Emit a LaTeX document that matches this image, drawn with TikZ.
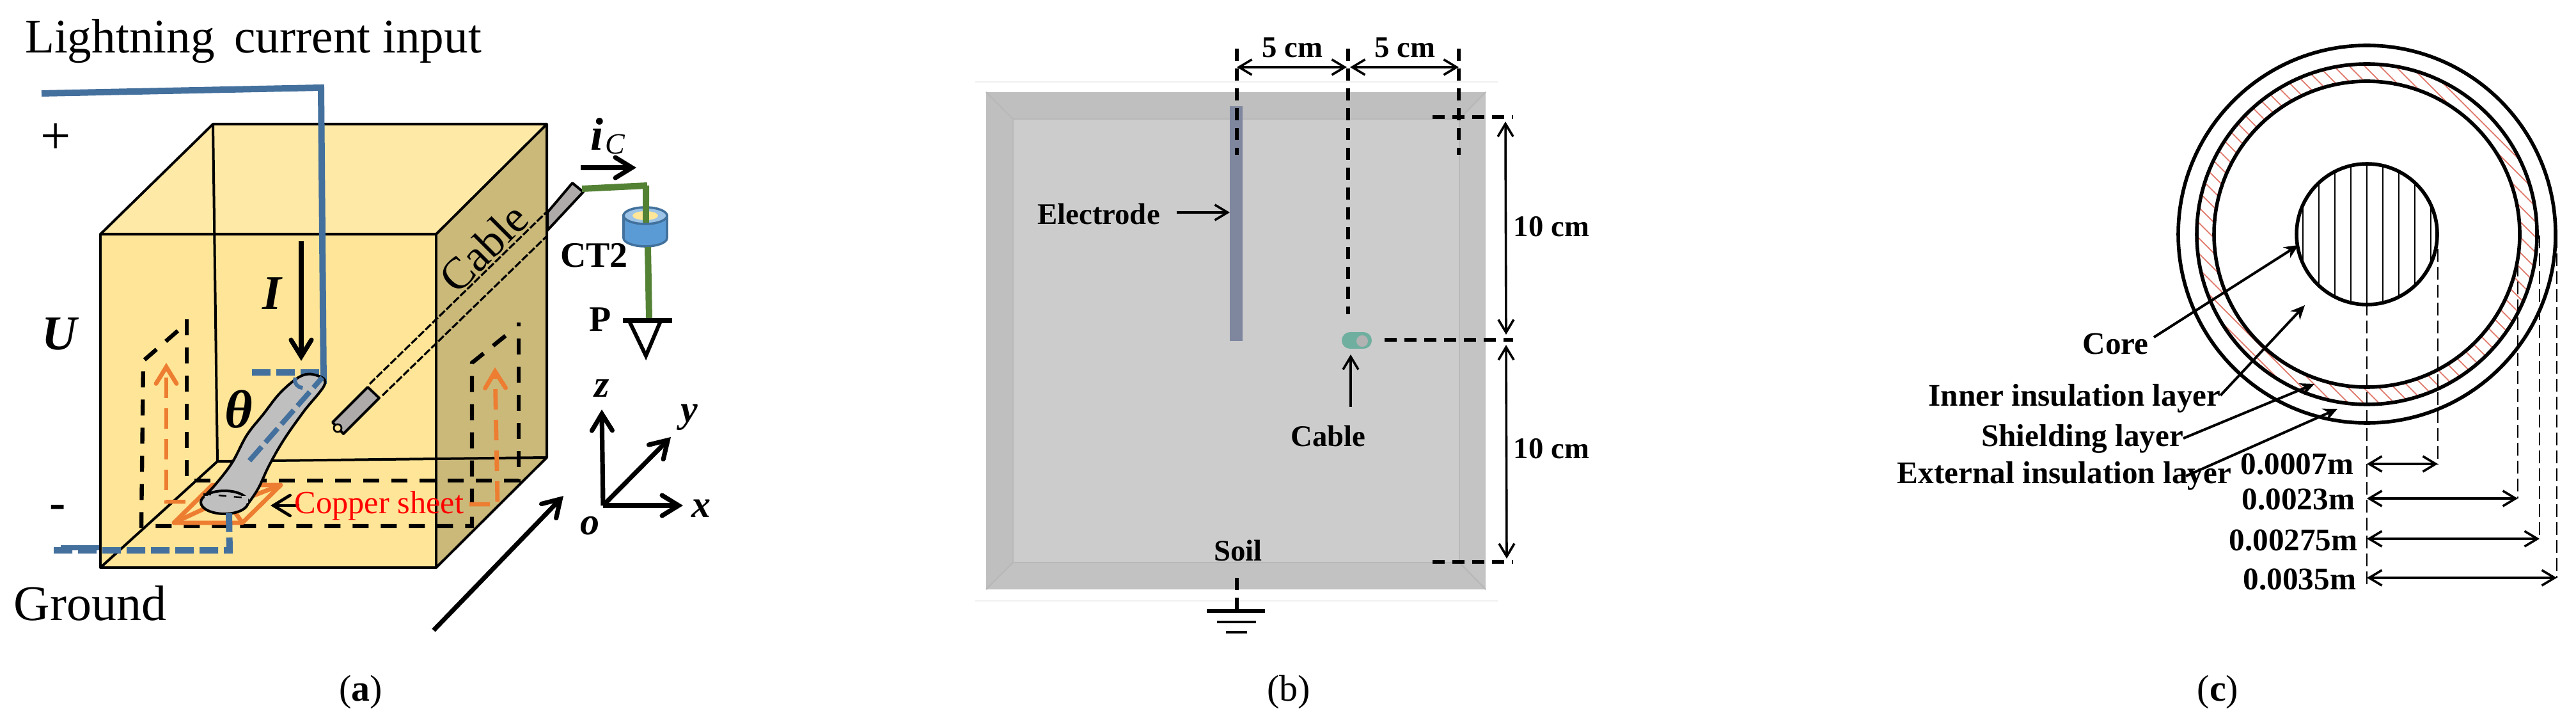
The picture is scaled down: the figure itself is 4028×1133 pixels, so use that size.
\documentclass[tikz,border=0pt]{standalone}
\usepackage{fontspec}
\setmainfont{Liberation Serif}
\usetikzlibrary{arrows.meta}
\definecolor{wireblue}{HTML}{44709D}
\definecolor{wiregreen}{HTML}{548235}
\definecolor{copper}{HTML}{ED7D31}
\definecolor{frontface}{HTML}{FFE597}
\definecolor{topface}{HTML}{FFE9A6}
\definecolor{sideface}{HTML}{CBB97A}
\definecolor{tubegray}{HTML}{BFBFBF}
\definecolor{cablegray}{HTML}{AEAAAA}
\definecolor{ctblue}{HTML}{5B9BD5}
\definecolor{ctedge}{HTML}{41719C}
\definecolor{ctring}{HTML}{9DC3E6}
\definecolor{ctinner}{HTML}{FFE699}
\definecolor{shieldred}{HTML}{E0786A}
\definecolor{tealpill}{HTML}{6FAF9F}
\definecolor{electrodeblue}{HTML}{7F879F}
\tikzset{every picture/.style={x=0.25pt,y=-0.25pt},>={Straight Barb[length=6.5pt,width=8pt,line cap=round]}}
\tikzstyle{boxline}=[draw=black,line width=1pt,line join=round]
\tikzstyle{wire}=[draw=wireblue,line width=2.5pt]
\tikzstyle{wiredash}=[wire,dash pattern=on 7.25pt off 2.25pt]
\tikzstyle{loopdash}=[draw=black,line width=1.6pt,dash pattern=on 6.25pt off 4.75pt]
\tikzstyle{copperdash}=[draw=copper,line width=1.7pt,dash pattern=on 8pt off 4pt]
\tikzstyle{dimdash}=[draw=black,line width=1.5pt,dash pattern=on 4.75pt off 3pt]
\tikzstyle{thindash}=[draw=black,line width=0.7pt,dash pattern=on 5pt off 2pt]
\tikzstyle{dimarrow}=[draw=black,line width=0.9pt,<->,>={Straight Barb[length=5pt,width=6pt]}]
\tikzstyle{thinarrow}=[draw=black,line width=0.9pt,->,>={Straight Barb[length=5pt,width=6pt]}]
\tikzstyle{leadarrow}=[draw=black,line width=1pt,-{Stealth[length=5.5pt,width=5pt]}]
\tikzstyle{blackarrow}=[draw=black,line width=1.8pt,->]
\tikzstyle{bigtext}=[font=\fontsize{18.8}{20}\selectfont,inner sep=0pt]
\tikzstyle{mathtext}=[font=\fontsize{19}{20}\selectfont\bfseries\itshape,inner sep=0pt]
\tikzstyle{axistext}=[font=\fontsize{15}{16}\selectfont\bfseries\itshape,inner sep=0pt]
\tikzstyle{labeltext}=[font=\fontsize{11.7}{14}\selectfont\bfseries,inner sep=0pt]
\tikzstyle{layertext}=[font=\fontsize{12.3}{14}\selectfont\bfseries,inner sep=0pt]
\tikzstyle{caption}=[font=\fontsize{14.5}{16}\selectfont,inner sep=0pt]
\begin{document}
\begin{tikzpicture}
	\useasboundingbox (0,0) rectangle (4028,1133);
	% panel a
	\coordinate (frontTL) at (157,366);
	\coordinate (frontTR) at (682,366);
	\coordinate (frontBL) at (157,887);
	\coordinate (frontBR) at (682,887);
	\coordinate (backTL) at (333,194);
	\coordinate (backTR) at (855,194);
	\coordinate (backBL) at (340,721);
	\coordinate (backBR) at (855,715);
	\fill[topface] (frontTL) -- (backTL) -- (backTR) -- (frontTR) -- cycle;
	\fill[frontface] (frontTL) -- (frontTR) -- (frontBR) -- (frontBL) -- cycle;
	\fill[sideface] (frontTR) -- (backTR) -- (backBR) -- (frontBR) -- cycle;
	\draw[boxline] (backTL) -- (backBL) -- (backBR);
	\draw[boxline] (backBL) -- (frontBL);
	\draw[boxline] (frontTL) -- (backTL) -- (backTR) -- (frontTR) -- cycle;
	\draw[boxline] (frontTL) -- (frontTR) -- (frontBR) -- (frontBL) -- cycle;
	\draw[boxline] (backTR) -- (backBR) -- (frontBR);
	\draw[loopdash] (292,499) -- (292,751) -- (811,751) -- (811,504);
	\draw[loopdash] (278,517) -- (224,564) -- (221,822) -- (738,822) -- (738,567) -- (800,517);
	\draw[copper,line width=1.7pt,line join=round] (272,817) -- (379,817) -- (439,758) -- (332,758) -- cycle;
	\draw[copper,line width=1.7pt] (272,817) -- (330,790) (379,817) -- (360,790) (439,758) -- (395,775);
	\draw[copperdash,->] (290,784) -- (260,784) -- (260,567);
	\draw[copperdash,->] (734,788) -- (778,788) -- (774,574);
	\draw[wire] (65,146) -- (502,137) -- (506,600);
	\draw[wiredash] (394,582) -- (506,582);
	\fill[tubegray] plot[smooth cycle,tension=0.6] coordinates {(470,588) (493,586) (508,600) (475,643) (444,687) (421,727) (404,763) (388,787) (352,802) (314,783) (337,757) (363,723) (386,680) (412,647) (439,613)};
	\draw[black,line width=1pt] plot[smooth,tension=0.6] coordinates {(320,775) (337,757) (363,723) (386,680) (412,647) (439,613) (470,588) (493,586) (508,600) (475,643) (444,687) (421,727) (404,763) (388,787)};
	\draw[black,line width=1pt,fill=tubegray] (351,785) ellipse [x radius=37,y radius=18];
	\fill[tubegray] (320,775) -- (388,775) -- (388,786) -- (320,782) -- cycle;
	\draw[black,line width=0.6pt,dashed] (318,772) -- (385,778);
	\draw[wiredash,line width=2pt] (390,720) -- (504,590);
	\draw[wire,line width=1.5pt] (462,590) arc [start angle=200,end angle=90,radius=12];
	\draw[wiredash] (358,802) -- (359,860) -- (80,860);
	\draw[wire,line width=2pt] (95,856) -- (155,856);
	\node at (756,387) [bigtext,rotate=45,font=\fontsize{17.5}{20}\selectfont] (cableLabelA) {Cable};
	\coordinate (cableInA) at (578,600);
	\coordinate (cableOutA) at (854,332);
	\coordinate (cableInB) at (598,618);
	\coordinate (cableOutB) at (854,370);
	\draw[black,line width=0.8pt,dash pattern=on 3pt off 0.8pt] (cableInA) -- (cableOutA);
	\draw[black,line width=0.8pt,dash pattern=on 3pt off 0.8pt] (cableInB) -- (cableOutB);
	\draw[boxline,fill=cablegray] (575,605) -- (593,622) -- (537,678) -- (520,660) -- cycle;
	\draw[black,line width=0.7pt,fill=frontface] (528,669) ellipse [x radius=6,y radius=6];
	\draw[boxline,fill=cablegray] (856,332) -- (895,286) -- (912,300) -- (856,360) -- cycle;
	\draw[wiregreen,line width=2.5pt] (910,295) -- (1012,290) (1010,290) -- (1010,315);
	\draw[ctedge,line width=0.9pt,fill=ctblue] (975,337) -- (975,372) arc [start angle=180,end angle=0,x radius=34,y radius=13] -- (1043,337) -- cycle;
	\draw[ctedge,line width=0.9pt,fill=ctring] (1009,337) ellipse [x radius=34,y radius=13];
	\fill[ctinner] (1009,337) ellipse [x radius=20,y radius=7];
	\draw[wiregreen,line width=2.5pt] (1010,310) -- (1010,348);
	\draw[wiregreen,line width=2.5pt] (1013,386) -- (1015,498);
	\draw[black,line width=2pt] (974,501) -- (1051,501);
	\draw[black,line width=1.5pt] (985,504) -- (1010,556) -- (1032,504);
	\coordinate (axisO) at (943,790);
	\coordinate (axisZ) at (941,640);
	\coordinate (axisX) at (1068,790);
	\coordinate (axisY) at (1049,683);
	\draw[blackarrow] (axisO) -- (axisZ);
	\draw[blackarrow] (axisO) -- (axisX);
	\draw[blackarrow] (axisO) -- (axisY);
	\draw[blackarrow] (471,377) -- (471,564);
	\draw[blackarrow] (908,262) -- (995,262);
	\draw[blackarrow] (678,985) -- (881,775);
	\draw[blackarrow,line width=1.2pt] (468,790) -- (423,790);
	\node at (396,65) [bigtext] (inputLabel) {Lightning\hspace{3pt} current input};
	\node at (87,217) [bigtext,font=\fontsize{21}{22}\selectfont] (plusLabel) {+};
	\node at (90,800) [mathtext,font=\fontsize{19}{20}\selectfont\bfseries] (minusLabel) {-};
	\node at (93,522) [mathtext] (uLabel) {U};
	\node at (425,459) [mathtext] (iLabel) {I};
	\node at (373,640) [mathtext,font=\fontsize{21}{22}\selectfont\bfseries\itshape] (thetaLabel) {θ};
	\node at (141,943) [bigtext,font=\fontsize{19.5}{20}\selectfont] (groundLabel) {Ground};
	\node at (593,790) [inner sep=0pt,text=red,font=\fontsize{12.6}{14}\selectfont] (copperLabel) {Copper sheet};
	\node at (933,210) [mathtext,font=\fontsize{18}{20}\selectfont\bfseries\itshape] (currentLabel) {i};
	\node at (962,225) [mathtext,font=\fontsize{11.5}{14}\selectfont\itshape] (subscriptLabel) {C};
	\node at (929,399) [labeltext,font=\fontsize{14}{16}\selectfont\bfseries] (ctLabel) {CT2};
	\node at (939,499) [labeltext,font=\fontsize{14}{16}\selectfont\bfseries] (pLabel) {P};
	\node at (941,607) [axistext] (zLabel) {z};
	\node at (1078,652) [axistext] (yLabel) {y};
	\node at (1096,795) [axistext] (xLabel) {x};
	\node at (922,822) [axistext] (oLabel) {o};
	\node at (564,1082) [caption] (captionA) {(\textbf{a})};
	% panel b
	\draw[black!6,line width=0.5pt] (1525,128) -- (2342,128) (1525,939) -- (2342,939);
	\fill[black!20] (1584,186) rectangle (2282,879);
	\fill[black!25] (1542,144) -- (2323,144) -- (2282,186) -- (1584,186) -- cycle;
	\fill[black!25] (1542,144) -- (1584,186) -- (1584,879) -- (1542,921) -- cycle;
	\fill[black!23] (2323,144) -- (2282,186) -- (2282,879) -- (2323,921) -- cycle;
	\fill[black!24] (1542,921) -- (1584,879) -- (2282,879) -- (2323,921) -- cycle;
	\draw[black!28,line width=0.6pt] (1584,186) rectangle (2282,879);
	\draw[black!28,line width=0.6pt] (1542,144) -- (1584,186) (2323,144) -- (2282,186) (1542,921) -- (1584,879) (2323,921) -- (2282,879);
	\fill[electrodeblue] (1923,166) rectangle (1943,533);
	\fill[tealpill] (2111,519) rectangle (2132,545);
	\fill[tealpill] (2111,532) circle (13) (2132,532) circle (13);
	\fill[gray!60] (2130,533) circle (9);
	\coordinate (dimA) at (1934,105);
	\coordinate (dimB) at (2108,105);
	\coordinate (dimC) at (2281,105);
	\draw[dimdash] (1934,76) -- (1934,242);
	\draw[dimdash] (2108,76) -- (2108,491);
	\draw[dimdash] (2281,76) -- (2281,242);
	\draw[dimdash] (2240,183) -- (2366,183);
	\draw[dimdash] (2165,531) -- (2366,531);
	\draw[dimdash] (2240,878) -- (2366,878);
	\draw[dimarrow] (dimA) -- (2106,105);
	\draw[dimarrow] (2111,105) -- (dimC);
	\draw[dimarrow] (2354,190) -- (2355,523);
	\draw[dimarrow] (2355,539) -- (2356,873);
	\draw[dimdash] (1934,903) -- (1934,955);
	\draw[black,line width=1.4pt] (1887,955) -- (1978,955);
	\draw[black,line width=1.1pt] (1903,972) -- (1964,972);
	\draw[black,line width=1.1pt] (1917,988) -- (1950,988);
	\node at (2021,74) [labeltext] (widthLabelA) {5 cm};
	\node at (2197,74) [labeltext] (widthLabelB) {5 cm};
	\node at (2426,354) [labeltext] (depthLabelA) {10 cm};
	\node at (2426,701) [labeltext] (depthLabelB) {10 cm};
	\node at (1718,334) [labeltext] (electrodeLabel) {Electrode};
	\node at (2077,681) [labeltext] (cableLabelB) {Cable};
	\node at (1936,860) [labeltext] (soilLabel) {Soil};
	\coordinate (electrodeTip) at (1923,332);
	\coordinate (cableTip) at (2112,554);
	\draw[thinarrow] (1840,332) -- (electrodeTip);
	\draw[thinarrow] (2112,636) -- (cableTip);
	\node at (2015,1082) [caption] (captionB) {(b)};
	% panel c
	\coordinate (center) at (3701,366);
	\draw[black,line width=1.4pt] (center) circle (295);
	\begin{scope}
		\clip (center) circle (266);
		\foreach \x in {-200,-176,...,800}
			\draw[shieldred,line width=0.45pt] (3100+\x,50) -- ++(800,800);
	\end{scope}
	\draw[black,line width=1.4pt] (center) circle (266);
	\draw[black,line width=1.4pt,fill=white] (center) circle (239);
	\begin{scope}
		\clip (center) circle (110);
		\foreach \x in {-100,-75,...,100}
			\draw[black,line width=0.5pt] (3701+\x,246) -- ++(0,240);
	\end{scope}
	\draw[black,line width=1.4pt] (center) circle (110);
	\draw[thindash] (3701,361) -- (3701,914);
	\draw[thindash] (3812,361) -- (3812,726);
	\draw[thindash] (3937,412) -- (3937,779);
	\draw[thindash] (3971,368) -- (3971,842);
	\draw[thindash] (3998,368) -- (3998,903);
	\draw[dimarrow] (3701,725) -- (3812,725);
	\draw[dimarrow] (3701,779) -- (3937,779);
	\draw[dimarrow] (3701,842) -- (3971,842);
	\draw[dimarrow] (3701,903) -- (3998,903);
	\node at (3592,725) [layertext] (radiusLabelA) {0.0007m};
	\node at (3594,780) [layertext] (radiusLabelB) {0.0023m};
	\node at (3586,844) [layertext] (radiusLabelC) {0.00275m};
	\node at (3596,905) [layertext] (radiusLabelD) {0.0035m};
	\node at (3308,537) [layertext] (coreLabel) {Core};
	\node at (3244,623) [layertext] (innerLabel) {Inner insulation layer};
	\node at (3256,686) [layertext] (shieldLabel) {Shielding layer};
	\node at (3228,744) [layertext] (externalLabel) {External insulation layer};
	\draw[leadarrow] (3368,527) -- (3594,383);
	\draw[leadarrow] (3472,618) -- (3604,477);
	\draw[leadarrow] (3414,685) -- (3619,600);
	\draw[leadarrow] (3418,744) -- (3655,639);
	\node at (3468,1082) [caption] (captionC) {(\textbf{c})};
\end{tikzpicture}
\end{document}
